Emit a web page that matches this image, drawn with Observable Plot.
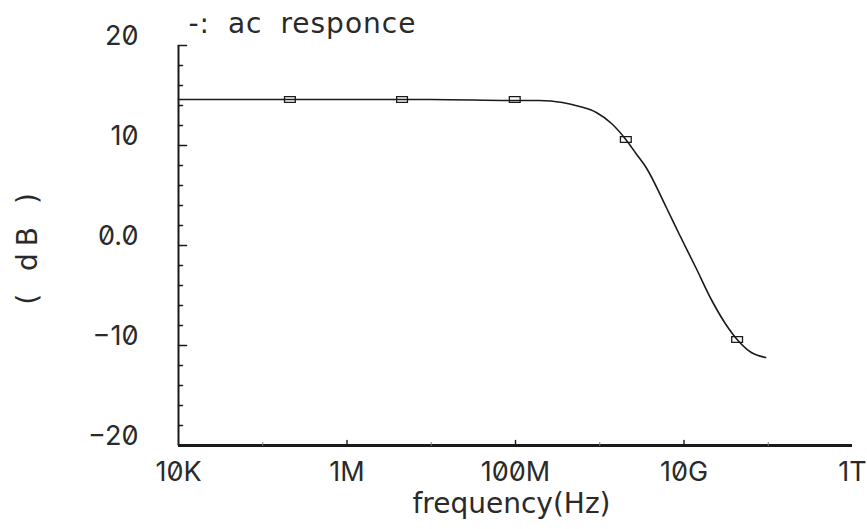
<!DOCTYPE html>
<html><head><meta charset="utf-8">
<script src="https://cdn.jsdelivr.net/npm/d3@7"></script>
<script src="https://cdn.jsdelivr.net/npm/@observablehq/plot@0.6"></script>
<style>
body{margin:0;background:#fff}
[aria-label="ticklabel"]{font-variant-numeric:slashed-zero;font-feature-settings:"zero" 1}
[aria-label="ylabel"]{letter-spacing:7px}
[aria-label="title"]{letter-spacing:1px;word-spacing:8px}
</style></head><body><div id="chart"></div>
<script>
// frequency response (Hz, dB)
const freqHz = [1e4, 1e5, 1e6, 1e7, 1e8, 1.9e8, 3.6e8, 5.75e8, 9.1e8, 1.38e9, 2.04e9, 2.69e9, 3.55e9, 6.17e9, 8.7e9, 1.38e10, 2.14e10, 3.09e10, 4.27e10, 6.3e10, 9.3e10];
const gainDb = [14.6, 14.6, 14.6, 14.6, 14.5, 14.5, 14.3, 13.9, 13.3, 12.2, 10.6, 9.2, 7.8, 3.8, 1.2, -2.2, -5.5, -7.8, -9.4, -10.7, -11.2];
// plotter markers on the curve
const markerHz = [2.1e5, 4.5e6, 9.8e7, 2.04e9, 4.27e10];
const markerDb = [14.6, 14.6, 14.6, 10.6, -9.4];
// axes
const xTicks = [1e4, 1e6, 1e8, 1e10, 1e12];
const xTickLabels = ["10K", "1M", "100M", "10G", "1T"];
const xMinorTicks = [1e5, 1e7, 1e9, 1e11];
const yTicks = [20, 10, 0, -10, -20];
const yTickLabels = ["20", "10", "0.0", "\u221210", "\u221220"];
const yMinorTicks = [18, 16, 14, 12, 8, 6, 4, 2, -2, -4, -6, -8, -12, -14, -16, -18];
const title = "-: ac responce";
const xLabel = "frequency(Hz)";
const yLabel = "( dB )";

const tickShape = {draw(context, l) { context.moveTo(0, 0); context.lineTo(0, -l); }};
const rectSymbol = {draw(context, size) { const s = Math.sqrt(size / Math.PI); context.rect(-s * 1.2, -s * 0.65, s * 2.4, s * 1.3); }};
const ink = "#1a1a1a";
const textInk = "#2a2a2a";
const font = "'DejaVu Sans', sans-serif";

const chart = Plot.plot({
  width: 867, height: 529,
  marginLeft: 178, marginRight: 15, marginTop: 45, marginBottom: 84,
  style: {background: "#fff", color: ink, fontFamily: font},
  x: {type: "log", domain: [1e4, 1e12], axis: null},
  y: {domain: [-20, 20], axis: null},
  marks: [
    Plot.ruleX([1e4], {y1: -20, y2: 20, stroke: ink, strokeWidth: 2}),
    Plot.ruleY([-20], {x1: 1e4, x2: 1e12, stroke: ink, strokeWidth: 3}),
    Plot.vector(yTicks, {x: () => 1e4, y: d => d, length: 8, rotate: 90, anchor: "start", shape: tickShape, stroke: ink, strokeWidth: 1.6}),
    Plot.vector(yMinorTicks, {x: () => 1e4, y: d => d, length: 4, rotate: 90, anchor: "start", shape: tickShape, stroke: ink, strokeWidth: 1.4}),
    Plot.vector(xTicks.slice(1, 4), {x: d => d, y: () => -20, length: 5, rotate: 0, anchor: "start", shape: tickShape, stroke: ink, strokeWidth: 1.4}),
    Plot.vector(xMinorTicks, {x: d => d, y: () => -20, length: 3, rotate: 0, anchor: "start", shape: tickShape, stroke: "#777", strokeWidth: 1}),
    Plot.line(freqHz.map((f, i) => ({f, g: gainDb[i]})), {x: "f", y: "g", curve: "monotone-x", stroke: ink, strokeWidth: 1.6}),
    Plot.dot(markerHz.map((f, i) => ({f, g: markerDb[i]})), {x: "f", y: "g", symbol: rectSymbol, r: 4.5, stroke: ink, strokeWidth: 1.3, fill: "none"}),
    Plot.text(yTicks, {ariaLabel: () => "ticklabel", x: () => 1e4, y: d => d, text: (d, i) => yTickLabels[i], textAnchor: "end", dx: -40, dy: -9, fontSize: 27, fontWeight: 400, fontFamily: "Inter, sans-serif", fill: textInk}),
    Plot.text(xTicks, {ariaLabel: () => "ticklabel", x: d => d, y: () => -20, text: (d, i) => xTickLabels[i], dy: 27, fontSize: 27, fontWeight: 400, fontFamily: "Inter, sans-serif", fill: textInk}),
    Plot.text([xLabel], {frameAnchor: "bottom", text: d => d, textAnchor: "middle", dx: -4, dy: 67, fontSize: 28, fill: textInk}),
    Plot.text([yLabel], {ariaLabel: () => "ylabel", frameAnchor: "left", text: d => d, textAnchor: "middle", rotate: -90, dx: -150, dy: 0, fontSize: 28, fill: textInk}),
    Plot.text([title], {ariaLabel: () => "title", frameAnchor: "top-left", text: d => d, textAnchor: "start", dx: 10, dy: -32, fontSize: 28, fill: textInk})
  ]
});
document.getElementById("chart").appendChild(chart);
</script></body></html>
